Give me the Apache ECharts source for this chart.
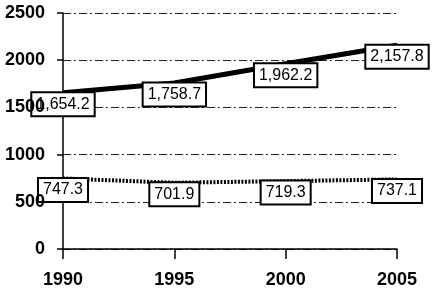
<!DOCTYPE html>
<html><head><meta charset="utf-8">
<script src="https://cdn.jsdelivr.net/npm/echarts@6/dist/echarts.min.js"></script>
<style>html,body{margin:0;padding:0;background:#fff}#c{width:432px;height:295px}</style>
</head><body><div id="c"></div>
<script>
var years = ['1990', '1995', '2000', '2005'];
var solidValues = [1654.2, 1758.7, 1962.2, 2157.8];
var dottedValues = [747.3, 701.9, 719.3, 737.1];
var yTicks = [0, 500, 1000, 1500, 2000, 2500];

function fmt(v) {
  var s = v.toFixed(1);
  var parts = s.split('.');
  parts[0] = parts[0].replace(/\B(?=(\d{3})+(?!\d))/g, ',');
  return parts.join('.');
}
var labelStyle = {
  show: true, position: 'bottom', distance: 0,
  formatter: function (p) { return fmt(p.value); },
  fontFamily: 'Liberation Sans', fontSize: 16, color: '#000',
  backgroundColor: '#fff', borderColor: '#000', borderWidth: 2,
  padding: [3, 4, 3, 4]
};
var yMin = yTicks[0], yMax = yTicks[yTicks.length - 1];
var chart = echarts.init(document.getElementById('c'));
chart.setOption({
  animation: false,
  grid: { left: 63, right: 35, top: 13, bottom: 46, outerBoundsMode: 'none', containLabel: false },
  xAxis: {
    type: 'category', data: years, boundaryGap: false,
    axisLine: { lineStyle: { color: '#000', width: 1.5 } },
    axisTick: { show: true, length: 10, lineStyle: { color: '#000', width: 1.5 } },
    axisLabel: { margin: 22, fontFamily: 'Liberation Sans', fontWeight: 'bold', fontSize: 18, color: '#000' },
    splitLine: { show: false }
  },
  yAxis: [
    {
      type: 'value', min: yMin, max: yMax, interval: 500,
      axisLine: { show: true, lineStyle: { color: '#000', width: 1.5 } },
      axisTick: { show: true, length: 6, lineStyle: { color: '#000', width: 1.5 } },
      axisLabel: { show: false },
      splitLine: { show: true, lineStyle: { color: '#222', width: 1, type: [8, 3, 2, 3] } }
    },
    {
      type: 'value', min: yMin, max: yMax, interval: 500, position: 'left', zlevel: 1,
      axisLine: { show: false }, axisTick: { show: false }, splitLine: { show: false },
      axisLabel: { margin: 18, fontFamily: 'Liberation Sans', fontWeight: 'bold', fontSize: 18, color: '#000',
        formatter: function (v) { return String(v); } }
    }
  ],
  series: [
    {
      type: 'line', data: solidValues, symbol: 'circle', symbolSize: 1, showSymbol: true, z: 3,
      itemStyle: { color: 'rgba(0,0,0,0)', borderWidth: 0 },
      lineStyle: { color: '#000', width: 5 },
      label: labelStyle
    },
    {
      type: 'line', data: dottedValues, symbol: 'circle', symbolSize: 1, showSymbol: true, z: 3,
      itemStyle: { color: 'rgba(0,0,0,0)', borderWidth: 0 },
      lineStyle: { color: '#000', width: 4, type: [2, 1.5] },
      label: labelStyle
    }
  ]
});
</script></body></html>
